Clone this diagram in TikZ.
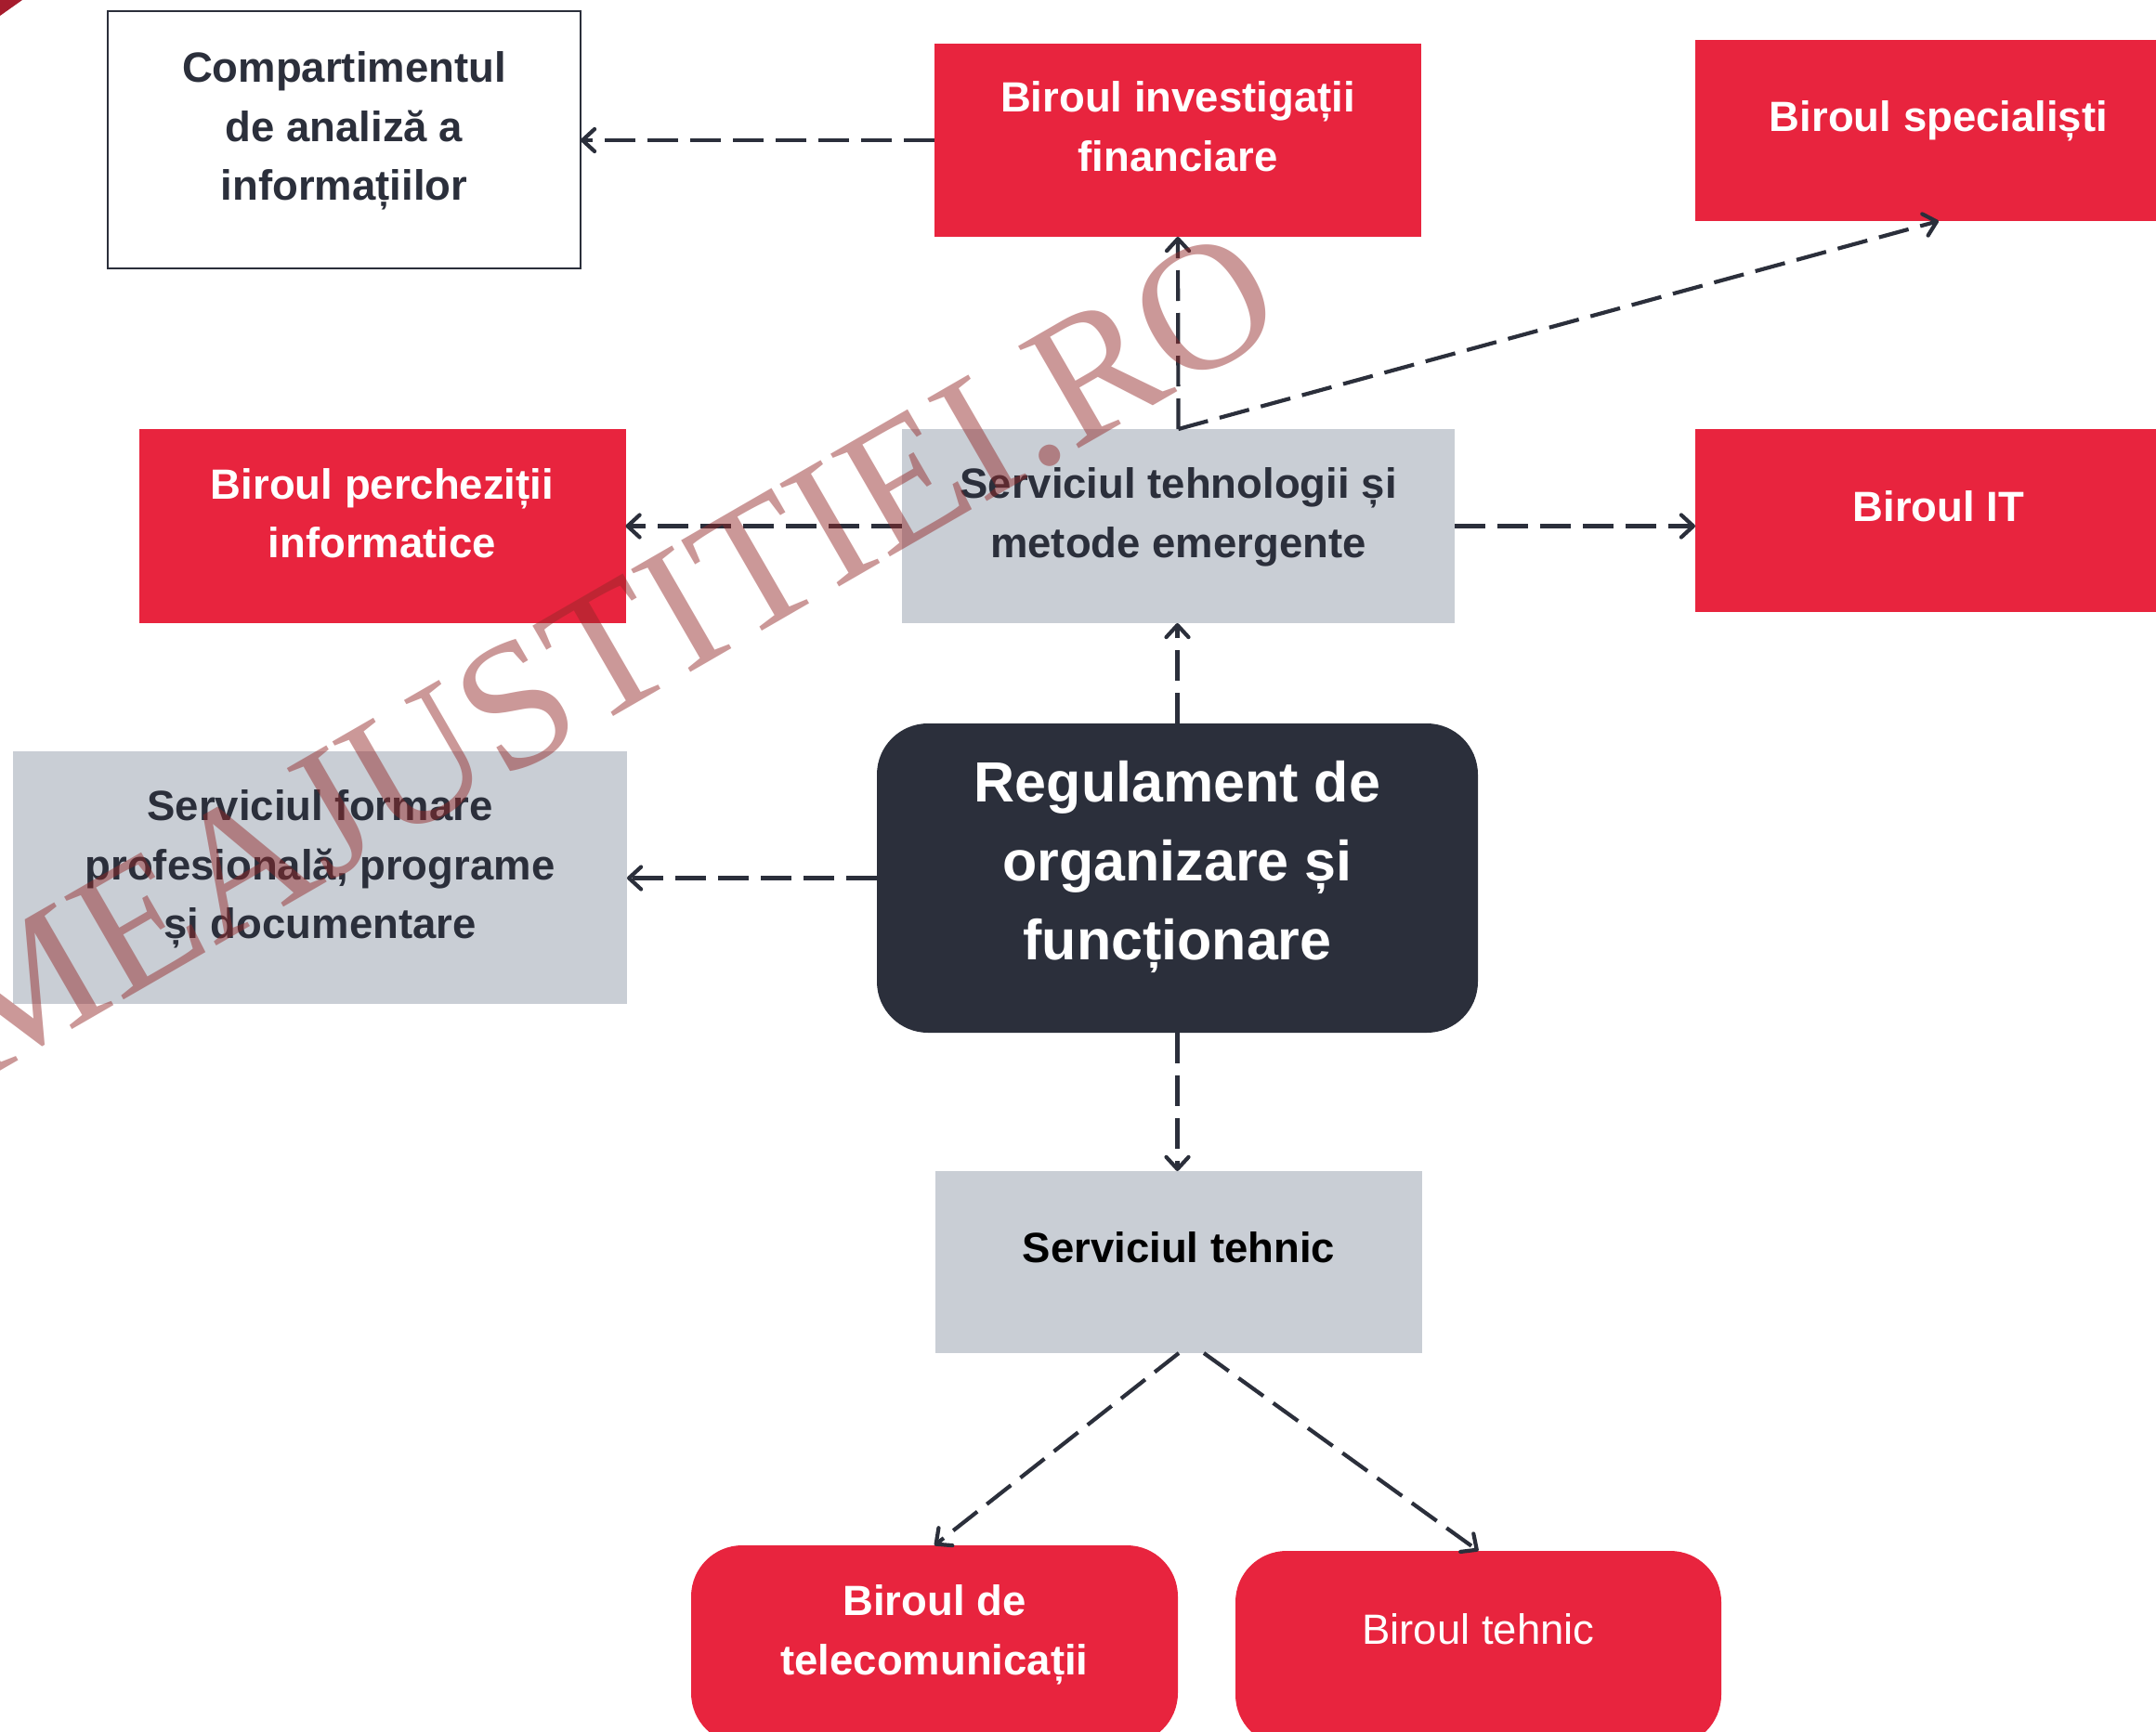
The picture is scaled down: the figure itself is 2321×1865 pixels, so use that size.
\documentclass[tikz,border=0pt]{standalone}
\usepackage{fontspec}
\setmainfont{Liberation Sans}
\newfontfamily\wmserif{Liberation Serif}
\usetikzlibrary{arrows.meta}
\definecolor{cred}{HTML}{E8243E}
\definecolor{cgray}{HTML}{C9CED5}
\definecolor{cdark}{HTML}{2B2F3B}
\definecolor{cwm}{HTML}{932828}
\definecolor{ctri}{HTML}{A61C2D}
\begin{document}
\begin{tikzpicture}[x=1pt,y=-1pt,
  box/.style={rectangle, inner sep=0pt, outer sep=0pt},
  redbox/.style={box, fill=cred, minimum width=524pt},
  graybox/.style={box, fill=cgray},
  roundbox/.style={rounded corners=55pt},
  lbl/.style={inner sep=0pt, outer sep=0pt, align=center},
  bold45/.style={lbl, font=\fontsize{45.5}{63.6}\selectfont\bfseries},
  reg45/.style={lbl, font=\fontsize{45.5}{63.6}\selectfont},
  big61/.style={lbl, font=\fontsize{61}{85}\selectfont\bfseries},
  conn/.style={draw=cdark, line width=4.2pt, dash pattern=on 33pt off 13pt,
    -{Straight Barb[round, length=13pt, width=24pt]}},
  wm/.style={inner sep=0pt, outer sep=0pt, font=\wmserif\fontsize{195}{195}\selectfont,
    text=cwm, text opacity=0.48}
]
\useasboundingbox (0,0) rectangle (2321,1865);
\clip (0,0) rectangle (2321,1865);

% boxes
\node[box, draw=cdark, line width=2pt, fill=white, minimum width=509pt, minimum height=277pt] (comp) at (370.5,150.5) {};
\node[redbox, minimum height=208pt] (bif) at (1268,151) {};
\node[redbox, minimum height=195pt] (bsp) at (2087,140.5) {};
\node[redbox, minimum height=209pt] (bpi) at (411.5,566.5) {};
\node[graybox, minimum width=595pt, minimum height=209pt] (stm) at (1268.5,566.5) {};
\node[redbox, minimum height=197pt] (bit) at (2087,560.5) {};
\node[graybox, minimum width=661pt, minimum height=272pt] (sfp) at (344.5,945) {};
\node[box, roundbox, fill=cdark, minimum width=647pt, minimum height=333pt] (rof) at (1267.5,945.5) {};
\node[graybox, minimum width=524pt, minimum height=196pt] (st) at (1269,1359) {};
\node[redbox, roundbox, minimum height=214pt] (btel) at (1006,1771) {};
\node[redbox, roundbox, minimum width=523pt, minimum height=210pt] (bteh) at (1591.5,1775) {};

% texts
\node[bold45, text=cdark] (tcomp) at (370.5,139.3) {\strut Compartimentul\\de analiză a\\informațiilor\strut};
\node[bold45, text=white] (tbif) at (1268,140) {\strut Biroul investigații\\financiare\strut};
\node[bold45, text=white] (tbsp) at (2087,129) {\strut Biroul specialiști\strut};
\node[bold45, text=white] (tbpi) at (411.5,556.1) {\strut Biroul percheziții\\informatice\strut};
\node[bold45, text=cdark] (tstm) at (1268.5,555.5) {\strut Serviciul tehnologii și\\metode emergente\strut};
\node[bold45, text=white] (tbit) at (2087,549) {\strut Biroul IT\strut};
\node[bold45, text=cdark] (tsfp) at (344.5,934.5) {\strut Serviciul formare\\profesională, programe\\și documentare\strut};
\node[big61, text=white] (trof) at (1267.5,931.5) {\strut Regulament de\\organizare și\\funcționare\strut};
\node[bold45, text=black] (tst) at (1269,1347) {\strut Serviciul tehnic\strut};
\node[bold45, text=white] (tbtel) at (1006,1759) {\strut Biroul de\\telecomunicații\strut};
\node[reg45, text=white] (tbteh) at (1591.5,1758) {\strut Biroul tehnic\strut};

% connectors
\draw[conn] (bif.west) -- (bif.west -| comp.east);
\draw[conn] (stm.north) -- (bif.south);
\draw[conn] (stm.north) -- (bsp.south);
\draw[conn] (stm.west) -- (bpi.east);
\draw[conn] (stm.east) -- (stm.east -| bit.west);
\draw[conn] (rof.north) -- (rof.north |- stm.south);
\draw[conn] (rof.west) -- (rof.west -| sfp.east);
\draw[conn] (rof.south) -- (rof.south |- st.north);
\draw[conn] (st.south) -- (btel.north);
\draw[conn] ([xshift=27pt]st.south) -- (bteh.north);

% watermark
\node[wm, rotate=30, anchor=base west] (wmark) at (-22,1166) {MEAJUSTITIEI.RO};
\fill[ctri] (0,0) -- (24,0) -- (0,17) -- cycle;
\end{tikzpicture}
\end{document}
